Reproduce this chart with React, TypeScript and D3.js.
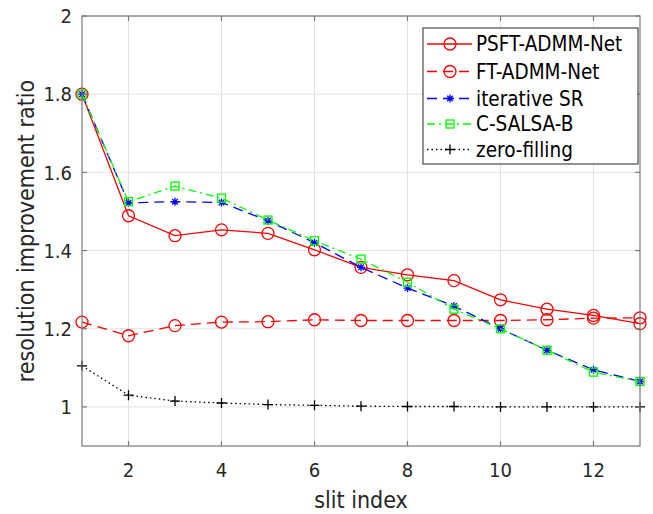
import React from "react";
import * as d3 from "d3";

const slits = [1, 2, 3, 4, 5, 6, 7, 8, 9, 10, 11, 12, 13];
const psftAdmmNet = [1.8, 1.489, 1.438, 1.453, 1.444, 1.402, 1.357, 1.338, 1.323, 1.274, 1.25, 1.234, 1.213];
const ftAdmmNet = [1.217, 1.182, 1.208, 1.217, 1.218, 1.223, 1.221, 1.221, 1.221, 1.221, 1.223, 1.227, 1.228];
const iterativeSR = [1.8, 1.522, 1.525, 1.523, 1.476, 1.42, 1.357, 1.304, 1.258, 1.2, 1.145, 1.095, 1.065];
const cSalsaB = [1.8, 1.525, 1.565, 1.534, 1.478, 1.425, 1.378, 1.319, 1.25, 1.2, 1.145, 1.089, 1.065];
const zeroFilling = [1.105, 1.03, 1.015, 1.01, 1.006, 1.004, 1.002, 1.001, 1.001, 1.0, 1.0, 1.0, 1.0];

const xTicks = [2, 4, 6, 8, 10, 12];
const yTicks = [1, 1.2, 1.4, 1.6, 1.8, 2];

type Marker = "circle" | "star" | "square" | "plus";
const seriesDefs = [
  { name: "PSFT-ADMM-Net", values: psftAdmmNet, color: "#ff0000", dash: "", marker: "circle" as Marker },
  { name: "FT-ADMM-Net", values: ftAdmmNet, color: "#ff0000", dash: "10,6", marker: "circle" as Marker },
  { name: "iterative SR", values: iterativeSR, color: "#0000ff", dash: "10,6", marker: "star" as Marker },
  { name: "C-SALSA-B", values: cSalsaB, color: "#00ff00", dash: "8,4,2,4", marker: "square" as Marker },
  { name: "zero-filling", values: zeroFilling, color: "#000000", dash: "1.5,3", marker: "plus" as Marker },
];

const W = 653, H = 514;
const M = { left: 82, right: 640, top: 16, bottom: 446 };
const FONT = "'DejaVu Sans Condensed', 'DejaVu Sans', sans-serif";
const TXT = "#262626";
const AX = "#7a7a7a";

function MarkerShape({ type, x, y, color }: { type: Marker; x: number; y: number; color: string }) {
  const sw = 1.3;
  if (type === "circle") return <circle cx={x} cy={y} r={6} fill="none" stroke={color} strokeWidth={sw} />;
  if (type === "square") return <rect x={x - 4} y={y - 4} width={8} height={8} fill="none" stroke={color} strokeWidth={sw} />;
  if (type === "plus")
    return <path d={`M${x - 5},${y}H${x + 5}M${x},${y - 5}V${y + 5}`} stroke={color} strokeWidth={sw} />;
  const r = 4;
  return (
    <path
      d={`M${x - r},${y}H${x + r}M${x - r * 0.7},${y - r * 0.7}L${x + r * 0.7},${y + r * 0.7}M${x - r * 0.7},${y + r * 0.7}L${x + r * 0.7},${y - r * 0.7}M${x},${y - r}V${y + r}`}
      stroke={color}
      strokeWidth={sw}
    />
  );
}

export default function App() {
  const x = d3.scaleLinear().domain([1, 13]).range([M.left, M.right]);
  const y = d3.scaleLinear().domain([0.9, 2]).range([M.bottom, M.top]);
  const line = d3
    .line<number>()
    .x((_, i) => x(slits[i]))
    .y((d) => y(d));

  const legX = 423, legY = 28, legW = 215, legH = 136;
  const rowY = [44, 71.5, 98.5, 124, 149.5];

  return (
    <svg width={W} height={H} style={{ position: "absolute", left: 0, top: 0, background: "#fff" }} fontFamily={FONT}>
      <rect x={0} y={0} width={W} height={H} fill="#fff" />
      {/* grid */}
      {xTicks.map((t) => (
        <line key={"gx" + t} x1={x(t)} x2={x(t)} y1={M.top} y2={M.bottom} stroke="#e3e3e3" strokeWidth={1} />
      ))}
      {yTicks.map((t) => (
        <line key={"gy" + t} x1={M.left} x2={M.right} y1={y(t)} y2={y(t)} stroke="#e3e3e3" strokeWidth={1} />
      ))}
      {/* series */}
      {seriesDefs.map((s) => (
        <g key={s.name}>
          <path d={line(s.values) || ""} fill="none" stroke={s.color} strokeWidth={1.3} strokeDasharray={s.dash} />
          {s.values.map((v, i) => (
            <MarkerShape key={i} type={s.marker} x={x(slits[i])} y={y(v)} color={s.color} />
          ))}
        </g>
      ))}
      {/* axes box */}
      <rect x={M.left} y={M.top} width={M.right - M.left} height={M.bottom - M.top} fill="none" stroke={AX} strokeWidth={1.2} />
      {xTicks.map((t) => (
        <g key={"tx" + t}>
          <line x1={x(t)} x2={x(t)} y1={M.bottom} y2={M.bottom - 5} stroke={AX} strokeWidth={1.2} />
          <line x1={x(t)} x2={x(t)} y1={M.top} y2={M.top + 5} stroke={AX} strokeWidth={1.2} />
          <text x={x(t)} y={M.bottom + 31} textAnchor="middle" fontSize={20} fill={TXT}>
            {t}
          </text>
        </g>
      ))}
      {yTicks.map((t) => (
        <g key={"ty" + t}>
          <line x1={M.left} x2={M.left + 5} y1={y(t)} y2={y(t)} stroke={AX} strokeWidth={1.2} />
          <line x1={M.right} x2={M.right - 5} y1={y(t)} y2={y(t)} stroke={AX} strokeWidth={1.2} />
          <text x={M.left - 10} y={y(t)} dy="0.36em" textAnchor="end" fontSize={20} fill={TXT}>
            {d3.format("~g")(t)}
          </text>
        </g>
      ))}
      <text x={(M.left + M.right) / 2} y={508} textAnchor="middle" fontSize={23} fill={TXT}>
        slit index
      </text>
      <text
        transform={`translate(34,${(M.top + M.bottom) / 2}) rotate(-90)`}
        textAnchor="middle"
        fontSize={23}
        fill={TXT}
      >
        resolution improvement ratio
      </text>
      {/* legend */}
      <rect x={legX} y={legY} width={legW} height={legH} fill="#fff" stroke="#262626" strokeWidth={1} />
      {seriesDefs.map((s, i) => (
        <g key={"leg" + s.name}>
          <line x1={427} x2={472} y1={rowY[i]} y2={rowY[i]} stroke={s.color} strokeWidth={1.3} strokeDasharray={s.dash} />
          <MarkerShape type={s.marker} x={450} y={rowY[i]} color={s.color} />
          <text x={476} y={rowY[i]} dy="0.36em" fontSize={20.5} fill="#000">
            {s.name}
          </text>
        </g>
      ))}
    </svg>
  );
}
